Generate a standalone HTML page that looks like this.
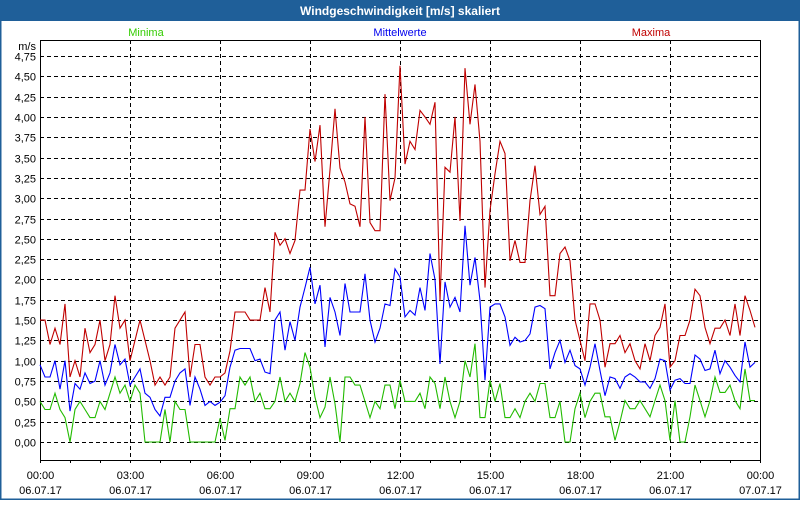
<!DOCTYPE html>
<html><head><meta charset="utf-8">
<style>
html,body{margin:0;padding:0;background:#fff;}
body{width:800px;height:500px;overflow:hidden;font-family:"Liberation Sans",sans-serif;}
</style></head>
<body>
<svg id="chart" width="800" height="500" xmlns="http://www.w3.org/2000/svg" font-family="Liberation Sans, sans-serif">
  <rect x="0.5" y="0.5" width="799" height="499" fill="#fff" stroke="#1f5f99" stroke-width="2"/>
  <rect x="0" y="0" width="800" height="21" fill="#1f5f99"/>
  <text x="400" y="15" text-anchor="middle" fill="#fff" font-size="12" font-weight="bold">Windgeschwindigkeit [m/s] skaliert</text>
  <text x="146" y="36" text-anchor="middle" fill="#33cc00" font-size="11">Minima</text>
  <text x="400" y="36" text-anchor="middle" fill="#0000ee" font-size="11">Mittelwerte</text>
  <text x="651" y="36" text-anchor="middle" fill="#c00000" font-size="11">Maxima</text>
  <text x="36" y="50" text-anchor="end" fill="#000" font-size="11">m/s</text>
  <g id="grid"></g>
  <g id="axes"></g>
  <g id="series"></g>
</svg>
<script>
const yTicks = [0,0.25,0.5,0.75,1,1.25,1.5,1.75,2,2.25,2.5,2.75,3,3.25,3.5,3.75,4,4.25,4.5,4.75];
const xTickHours = [0,3,6,9,12,15,18,21,24];
const xTickTimes = ["00:00","03:00","06:00","09:00","12:00","15:00","18:00","21:00","00:00"];
const xTickDates = ["06.07.17","06.07.17","06.07.17","06.07.17","06.07.17","06.07.17","06.07.17","06.07.17","07.07.17"];
const maxima = [1.5,1.5,1.2,1.4,1.2,1.7,0.8,1.0,0.8,1.4,1.1,1.2,1.5,1.0,1.2,1.8,1.4,1.5,1.0,1.25,1.5,1.25,1.0,0.7,0.8,0.7,0.8,1.4,1.5,1.6,0.8,1.2,1.2,0.8,0.7,0.8,
0.8,0.85,1.12,1.6,1.6,1.6,1.5,1.5,1.5,1.9,1.6,2.58,2.42,2.5,2.32,2.48,3.1,3.1,3.85,3.45,3.9,2.65,3.35,4.1,3.37,3.2,2.93,2.9,2.65,4.0,2.7,2.6,2.6,4.28,2.97,3.25,
4.63,3.42,3.7,3.6,4.08,4.0,3.91,4.18,1.74,3.38,3.32,4.0,2.72,4.6,3.91,4.4,3.7,1.9,2.85,3.3,3.7,3.55,2.23,2.48,2.21,2.21,2.97,3.4,2.8,2.9,1.8,1.8,2.32,2.4,2.23,1.5,1.25,1.0,1.7,1.7,
1.5,0.92,1.21,1.21,1.31,1.1,1.21,1.0,0.9,1.21,1.0,1.31,1.41,1.7,0.92,1.0,1.31,1.31,1.5,1.88,1.8,1.41,1.21,1.4,1.4,1.5,1.31,1.7,1.31,1.8,1.62,1.41];
const mittelwerte = [0.95,0.8,0.8,1.0,0.65,1.0,0.38,0.72,0.65,0.85,0.72,0.75,1.0,0.7,0.85,1.2,0.95,1.02,0.7,0.8,0.9,0.6,0.55,0.4,0.32,0.55,0.55,0.75,0.85,0.9,0.45,0.8,0.65,0.45,0.5,0.45,
0.49,0.57,0.92,1.13,1.15,1.15,1.15,1.0,1.02,0.86,0.84,1.5,1.6,1.13,1.48,1.25,1.66,1.9,2.15,1.7,1.93,1.17,1.78,1.6,1.31,1.95,1.6,1.6,1.6,2.07,1.5,1.23,1.4,1.7,1.68,2.13,
2.03,1.54,1.62,1.56,1.9,1.62,2.32,2.0,0.96,1.97,1.66,1.78,1.6,2.66,1.93,2.27,1.74,0.76,1.66,1.7,1.7,1.54,1.19,1.29,1.23,1.25,1.33,1.66,1.68,1.64,0.9,1.1,1.25,0.98,1.13,0.94,0.9,0.7,0.92,1.21,
0.88,0.57,0.8,0.78,0.66,0.8,0.84,0.8,0.74,0.74,0.66,0.78,1.02,1.0,0.64,0.76,0.78,0.72,0.72,1.07,1.02,0.88,0.9,1.13,0.84,1.0,0.92,0.82,0.74,1.23,0.92,0.98];
const minima = [0.5,0.4,0.4,0.6,0.4,0.3,0.0,0.4,0.5,0.4,0.3,0.3,0.5,0.4,0.6,0.8,0.6,0.7,0.5,0.7,0.6,0,0,0,0,0.4,0,0.5,0.4,0.4,0,0,0,0,0,0,
0.29,0.02,0.41,0.41,0.8,0.7,0.8,0.5,0.6,0.41,0.41,0.5,0.8,0.5,0.6,0.5,0.72,1.1,0.92,0.55,0.3,0.43,0.8,0.47,0.0,0.8,0.8,0.7,0.7,0.5,0.3,0.5,0.41,0.7,0.7,0.41,
0.76,0.5,0.5,0.5,0.6,0.41,0.8,0.72,0.41,0.8,0.5,0.3,0.5,1.0,0.8,1.21,0.3,0.3,0.76,0.5,0.72,0.3,0.3,0.41,0.3,0.5,0.6,0.5,0.72,0.72,0.3,0.3,0.5,0,0,0.41,0.6,0.3,0.5,0.6,
0.6,0.31,0.31,0.02,0.25,0.51,0.41,0.41,0.51,0.41,0.31,0.51,0.7,0.51,0.02,0.51,0,0,0.31,0.7,0.51,0.31,0.51,0.8,0.61,0.61,0.7,0.51,0.41,0.9,0.51,0.51];

const NS = "http://www.w3.org/2000/svg";
const L = 40, R = 760, T = 40, B = 460;
const Y0 = 442, Y475 = 56;
function yScale(v){ return Y0 - v * (Y0 - Y475) / 4.75; }
function xHour(h){ return L + h * (R - L) / 24; }
function xIndex(i){ return xHour(i / 6); }
function mk(tag, attrs, parent){ const e = document.createElementNS(NS, tag); for (const k in attrs) e.setAttribute(k, attrs[k]); parent.appendChild(e); return e; }

const grid = document.getElementById('grid');
const axes = document.getElementById('axes');
const series = document.getElementById('series');

yTicks.forEach(v => {
  const y = Math.round(yScale(v)) + 0.5;
  const g = mk('line', {x1:L, x2:R, y1:y, y2:y, stroke:'#000', 'stroke-width':1, 'stroke-dasharray':'4,3'}, grid);
  
  
  const t = mk('text', {x:36, y:y + 4, 'text-anchor':'end', 'font-size':11, fill:'#000'}, axes);
  t.textContent = v.toFixed(2).replace('.', ',');
  
  
});
xTickHours.forEach((h, i) => {
  const x = Math.round(xHour(h)) + 0.5;
  if (h > 0 && h < 24) {
    const g = mk('line', {x1:x, x2:x, y1:T, y2:B, stroke:'#000', 'stroke-width':1, 'stroke-dasharray':'4,3'}, grid);
    
    
  }
  const t1 = mk('text', {x:x, y:479, 'text-anchor':'middle', 'font-size':11, fill:'#000'}, axes);
  t1.textContent = xTickTimes[i];
  
  
  const t2 = mk('text', {x:x, y:494, 'text-anchor':'middle', 'font-size':11, fill:'#000'}, axes);
  t2.textContent = xTickDates[i];
  
  
});
for (let h = 0; h <= 24; h++) {
  const x = Math.round(xHour(h)) + 0.5;
  const tk = mk('line', {x1:x, x2:x, y1:B, y2:B + 3, stroke:'#000', 'stroke-width':1}, axes);
  
  
}
const frame = mk('rect', {x:L + 0.5, y:T + 0.5, width:R - L, height:B - T, fill:'none', stroke:'#000', 'stroke-width':1}, axes);



function drawSeries(arr, color, name){
  const pts = arr.map((v, i) => xIndex(i).toFixed(1) + ',' + yScale(v).toFixed(1)).join(' ');
  const p = mk('polyline', {points:pts, fill:'none', stroke:color, 'stroke-width':1.1}, series);
  
  
}
drawSeries(minima, '#22bb00', 'minima-line');
drawSeries(maxima, '#c00000', 'maxima-line');
drawSeries(mittelwerte, '#0000ff', 'mittelwerte-line');
</script>
</body></html>
